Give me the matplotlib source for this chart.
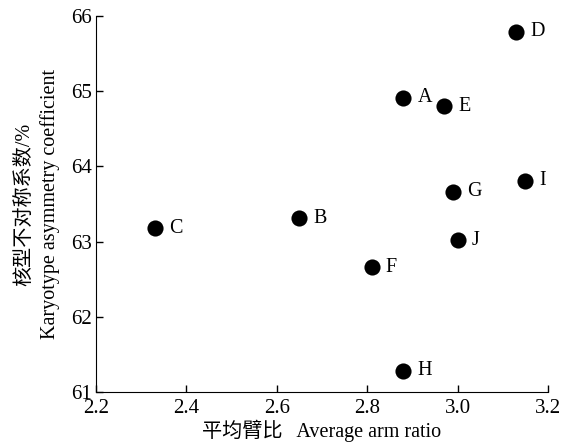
import matplotlib
matplotlib.use("Agg")
import matplotlib.pyplot as plt

labels = ["A", "B", "C", "D", "E", "F", "G", "H", "I", "J"]
arm_ratio = [2.88, 2.65, 2.33, 3.13, 2.97, 2.81, 2.99, 2.88, 3.15, 3.00]
asym = [64.91, 63.31, 63.18, 65.79, 64.80, 62.66, 63.66, 61.28, 63.81, 63.02]

plt.rcParams['font.family'] = ['Liberation Serif', 'Noto Sans CJK SC']
plt.rcParams['font.size'] = 14.5

fig = plt.figure(figsize=(5.65, 4.45), dpi=100)
ax = fig.add_axes([0.170, 0.119, 0.800, 0.845])
ax.scatter(arm_ratio, asym, s=135, color='black', zorder=3, linewidths=0)
for x, y, t in zip(arm_ratio, asym, labels):
    ax.annotate(t, (x, y), xytext=(10, 0), textcoords='offset points',
                va='center', ha='left', fontsize=14.5)

ax.set_xlim(2.2, 3.2)
ax.set_ylim(61, 66)
ax.set_xticks([2.2, 2.4, 2.6, 2.8, 3.0, 3.2])
ax.set_xticklabels(["2.2", "2.4", "2.6", "2.8", "3.0", "3.2"])
ax.set_yticks([61, 62, 63, 64, 65, 66])
for s in ['top', 'right']:
    ax.spines[s].set_visible(False)
ax.tick_params(direction='in', length=5, width=1, labelsize=15)
ax.tick_params(axis='x', pad=5)
ax.tick_params(axis='y', pad=3)
ax.set_xlabel("平均臂比   Average arm ratio", labelpad=1)
ax.set_ylabel("核型不对称系数/%\nKaryotype asymmetry coefficient", labelpad=8,
              linespacing=1.4)
fig.savefig("out.png", dpi=100)
